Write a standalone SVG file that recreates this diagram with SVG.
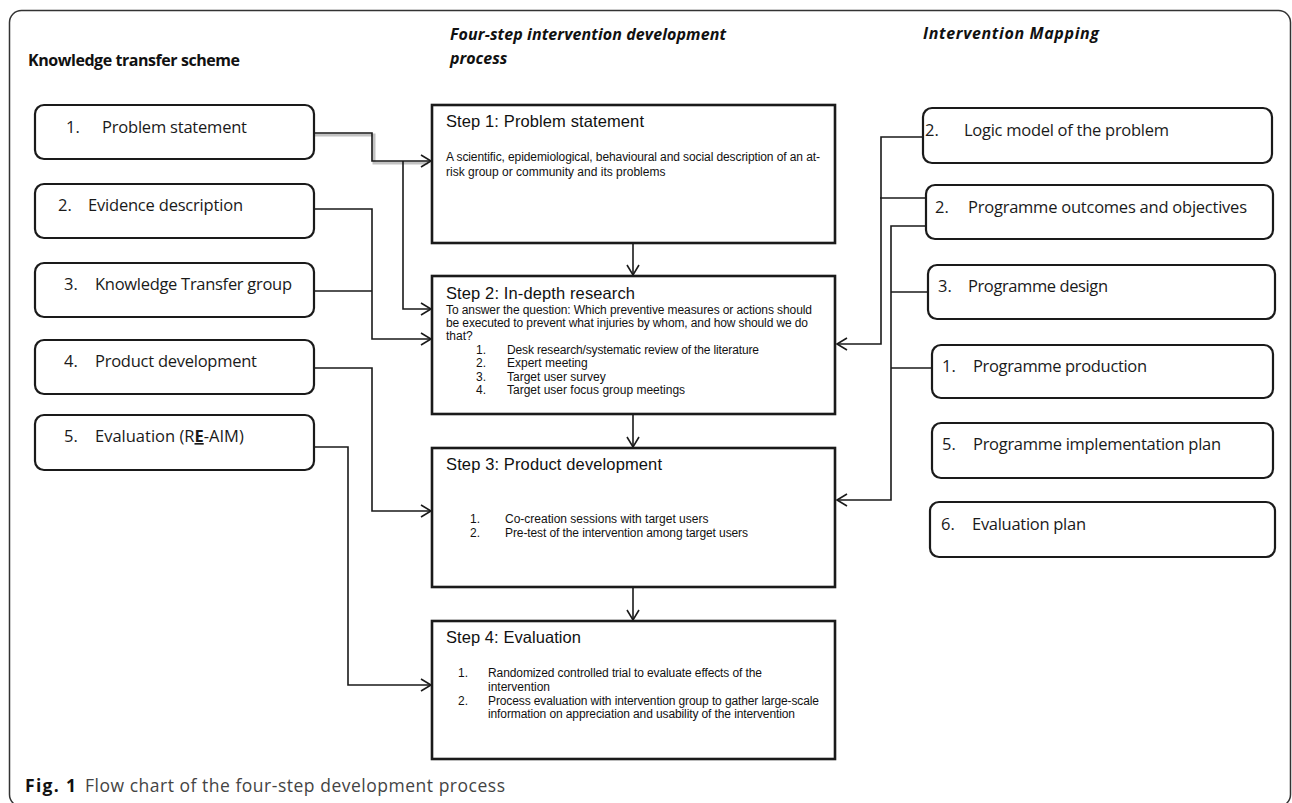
<svg xmlns="http://www.w3.org/2000/svg" width="1292" height="803" viewBox="0 0 1292 803">
<defs>
<style>
.frame{fill:none;stroke:#333;stroke-width:1.5}
.kbox{fill:#fff;stroke:#1a1a1a;stroke-width:2.2}
.sbox{fill:#fff;stroke:#1a1a1a;stroke-width:2.6}
.conn{fill:none;stroke:#1a1a1a;stroke-width:1.6}
.shadow{fill:none;stroke:#9a9a9a;stroke-width:3;opacity:0.6}
.hdr{font-family:"Open Sans","Liberation Sans",sans-serif;font-weight:bold;font-size:16px;fill:#111}
.hdri{font-family:"Open Sans","Liberation Sans",sans-serif;font-weight:bold;font-style:italic;font-size:16px;fill:#111}
.lbl{font-family:"Open Sans","Liberation Sans",sans-serif;font-size:16.5px;fill:#1a1a1a}
.st{font-family:"Liberation Sans",Arial,sans-serif;font-size:16.5px;fill:#111}
.sb{font-family:"Liberation Sans",Arial,sans-serif;font-size:12px;fill:#111}
.cap{font-family:"Open Sans","Liberation Sans",sans-serif;font-size:17.5px;fill:#444}
.capb{font-family:"Open Sans","Liberation Sans",sans-serif;font-size:17.5px;font-weight:bold;fill:#111}
</style>
<marker id="arr" viewBox="-12 -8 14 16" refX="0" refY="0" markerWidth="14" markerHeight="16" markerUnits="userSpaceOnUse" orient="auto">
<path d="M-10,-6 L0,0 L-10,6" fill="none" stroke="#1a1a1a" stroke-width="1.6"/>
</marker>
</defs>
<rect width="1292" height="803" fill="#fff"/>
<rect class="frame" x="9.5" y="10.5" width="1281" height="796" rx="12"/>

<text class="hdr" x="28" y="66" textLength="212">Knowledge transfer scheme</text>
<text class="hdri" x="450" y="40" textLength="276">Four-step intervention development</text>
<text class="hdri" x="450" y="64">process</text>
<text class="hdri" x="923" y="39" textLength="176">Intervention Mapping</text>

<g id="connectors">
<path class="shadow" d="M315,135 H374 V163 H428"/>
<path class="conn" d="M314,133 H372 V161 H431" marker-end="url(#arr)"/>
<path class="conn" d="M403,161 V309 H431" marker-end="url(#arr)"/>
<path class="conn" d="M314,209 H372 V339 H431" marker-end="url(#arr)"/>
<path class="conn" d="M314,291 H372"/>
<path class="conn" d="M314,368 H372 V511 H431" marker-end="url(#arr)"/>
<path class="conn" d="M314,447 H348 V685 H431" marker-end="url(#arr)"/>
<path class="conn" d="M633,243 V275" marker-end="url(#arr)"/>
<path class="conn" d="M633,414 V447" marker-end="url(#arr)"/>
<path class="conn" d="M633,587 V620" marker-end="url(#arr)"/>
<path class="conn" d="M923,137 H881 V344 H837" marker-end="url(#arr)"/>
<path class="conn" d="M926,198 H880"/>
<path class="conn" d="M926,226 H891 V500 H837" marker-end="url(#arr)"/>
<path class="conn" d="M928,292 H891"/>
<path class="conn" d="M932,368 H891"/>
</g>

<g id="k1"><rect class="kbox" x="35" y="105" width="279" height="54" rx="9"/>
<text class="lbl" x="66" y="133">1.</text><text class="lbl" x="102" y="133" textLength="145">Problem statement</text></g>
<g id="k2"><rect class="kbox" x="35" y="184" width="279" height="54" rx="9"/>
<text class="lbl" x="58" y="211">2.</text><text class="lbl" x="88" y="211" textLength="155">Evidence description</text></g>
<g id="k3"><rect class="kbox" x="35" y="263" width="279" height="54" rx="9"/>
<text class="lbl" x="64" y="290">3.</text><text class="lbl" x="95" y="290" textLength="197">Knowledge Transfer group</text></g>
<g id="k4"><rect class="kbox" x="35" y="340" width="279" height="54" rx="9"/>
<text class="lbl" x="64" y="367">4.</text><text class="lbl" x="95" y="367" textLength="162">Product development</text></g>
<g id="k5"><rect class="kbox" x="35" y="415" width="279" height="55" rx="9"/>
<text class="lbl" x="64" y="442">5.</text><text class="lbl" x="95" y="442">Evaluation (R<tspan font-weight="bold" text-decoration="underline">E</tspan>-AIM)</text></g>

<g id="s1"><rect class="sbox" x="432" y="105" width="403" height="138"/>
<text class="st" x="446" y="127" textLength="198">Step 1: Problem statement</text>
<text class="sb" x="446" y="161" textLength="374">A scientific, epidemiological, behavioural and social description of an at-</text>
<text class="sb" x="446" y="176">risk group or community and its problems</text></g>

<g id="s2"><rect class="sbox" x="432" y="276" width="403" height="138"/>
<text class="st" x="446" y="299" textLength="189">Step 2: In-depth research</text>
<text class="sb" x="446" y="314" textLength="366">To answer the question: Which preventive measures or actions should</text>
<text class="sb" x="446" y="327" textLength="362">be executed to prevent what injuries by whom, and how should we do</text>
<text class="sb" x="446" y="340">that?</text>
<text class="sb" x="476" y="354">1.</text><text class="sb" x="507" y="354" textLength="252">Desk research/systematic review of the literature</text>
<text class="sb" x="476" y="367">2.</text><text class="sb" x="507" y="367">Expert meeting</text>
<text class="sb" x="476" y="381">3.</text><text class="sb" x="507" y="381">Target user survey</text>
<text class="sb" x="476" y="394">4.</text><text class="sb" x="507" y="394">Target user focus group meetings</text></g>

<g id="s3"><rect class="sbox" x="432" y="448" width="403" height="139"/>
<text class="st" x="446" y="470" textLength="216">Step 3: Product development</text>
<text class="sb" x="470" y="523">1.</text><text class="sb" x="505" y="523">Co-creation sessions with target users</text>
<text class="sb" x="470" y="537">2.</text><text class="sb" x="505" y="537" textLength="243">Pre-test of the intervention among target users</text></g>

<g id="s4"><rect class="sbox" x="432" y="621" width="403" height="138"/>
<text class="st" x="446" y="643" textLength="135">Step 4: Evaluation</text>
<text class="sb" x="458" y="677">1.</text><text class="sb" x="488" y="677" textLength="274">Randomized controlled trial to evaluate effects of the</text>
<text class="sb" x="488" y="691">intervention</text>
<text class="sb" x="458" y="705">2.</text><text class="sb" x="488" y="705" textLength="331">Process evaluation with intervention group to gather large-scale</text>
<text class="sb" x="488" y="718" textLength="307">information on appreciation and usability of the intervention</text></g>

<g id="m1"><rect class="kbox" x="923" y="108" width="349" height="55" rx="9"/>
<text class="lbl" x="925" y="136">2.</text><text class="lbl" x="964" y="136" textLength="205">Logic model of the problem</text></g>
<g id="m2"><rect class="kbox" x="926" y="185" width="347" height="54" rx="9"/>
<text class="lbl" x="935" y="213">2.</text><text class="lbl" x="968" y="213" textLength="279">Programme outcomes and objectives</text></g>
<g id="m3"><rect class="kbox" x="928" y="265" width="347" height="54" rx="9"/>
<text class="lbl" x="938" y="292">3.</text><text class="lbl" x="968" y="292" textLength="140">Programme design</text></g>
<g id="m4"><rect class="kbox" x="932" y="345" width="341" height="53" rx="9"/>
<text class="lbl" x="942" y="372">1.</text><text class="lbl" x="973" y="372" textLength="174">Programme production</text></g>
<g id="m5"><rect class="kbox" x="932" y="423" width="341" height="55" rx="9"/>
<text class="lbl" x="942" y="450">5.</text><text class="lbl" x="973" y="450" textLength="248">Programme implementation plan</text></g>
<g id="m6"><rect class="kbox" x="930" y="502" width="345" height="55" rx="9"/>
<text class="lbl" x="941" y="530">6.</text><text class="lbl" x="972" y="530" textLength="114">Evaluation plan</text></g>

<text class="capb" x="25" y="792" textLength="51">Fig. 1</text>
<text class="cap" x="85" y="792" textLength="420">Flow chart of the four-step development process</text>
</svg>
